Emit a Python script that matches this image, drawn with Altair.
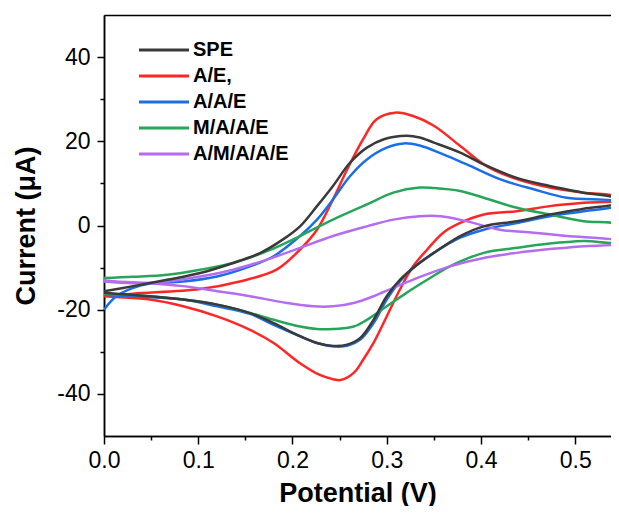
import altair as alt
import pandas as pd

# ---------------- data ----------------
SERIES = ["SPE", "A/E,", "A/A/E", "M/A/A/E", "A/M/A/A/E"]
COLORS = ["#3a3a3a", "#ff2626", "#1b6fe6", "#27a65a", "#b46cf0"]

SPE_V = [0.000, 0.031, 0.067, 0.102, 0.137, 0.166, 0.190, 0.208, 0.226, 0.243, 0.261, 0.279, 0.297, 0.321, 0.335, 0.350, 0.378, 0.403, 0.438, 0.473, 0.509, 0.546,
         0.546, 0.509, 0.473, 0.438, 0.403, 0.378, 0.350, 0.328, 0.314, 0.300, 0.286, 0.272, 0.258, 0.243, 0.226, 0.208, 0.180, 0.155, 0.120, 0.084, 0.049, 0.013, 0.000]
SPE_I = [-15.6, -14.4, -12.9, -11.3, -8.9, -6.5, -3.3, -0.2, 4.6, 9.4, 14.9, 18.5, 20.5, 21.3, 20.9, 19.7, 17.3, 14.5, 11.3, 9.4, 7.8, 6.3,
         5.4, 4.0, 2.6, 1.0, -0.2, -2.5, -6.5, -10.1, -12.9, -16.8, -22.4, -26.7, -28.3, -28.6, -27.9, -26.3, -23.2, -20.8, -18.8, -17.6, -16.8, -16.2, -16.0]

AE_V = [0.000, 0.031, 0.102, 0.144, 0.183, 0.208, 0.226, 0.243, 0.258, 0.275, 0.289, 0.309, 0.328, 0.350, 0.378, 0.406, 0.438, 0.473, 0.509, 0.546,
        0.546, 0.509, 0.473, 0.438, 0.403, 0.378, 0.360, 0.343, 0.328, 0.314, 0.300, 0.286, 0.275, 0.265, 0.251, 0.243, 0.229, 0.208, 0.180, 0.155, 0.120, 0.084, 0.049, 0.013, 0.000]
AE_I = [-16.8, -16.2, -15.1, -13.3, -10.5, -5.7, -1.0, 6.2, 13.3, 20.5, 25.2, 26.8, 26.0, 23.7, 18.9, 14.1, 11.0, 9.0, 7.8, 6.8,
        6.0, 5.4, 4.6, 3.4, 2.6, 0.6, -1.7, -5.7, -9.7, -15.2, -21.6, -27.9, -31.9, -35.0, -36.7, -36.5, -35.5, -32.7, -27.9, -24.8, -21.6, -19.2, -17.6, -17.0, -16.8]

AAE_V = [0.000, 0.013, 0.031, 0.049, 0.084, 0.120, 0.155, 0.180, 0.208, 0.226, 0.243, 0.261, 0.279, 0.300, 0.318, 0.335, 0.360, 0.385, 0.420, 0.456, 0.491, 0.546,
         0.546, 0.509, 0.473, 0.438, 0.403, 0.378, 0.350, 0.328, 0.314, 0.300, 0.286, 0.272, 0.258, 0.243, 0.226, 0.208, 0.180, 0.155, 0.120, 0.084, 0.049, 0.013, 0.000]
AAE_I = [-20.0, -16.8, -14.8, -13.8, -13.3, -12.1, -9.7, -7.3, -2.5, 1.4, 6.2, 11.7, 15.7, 18.5, 19.5, 19.0, 16.9, 14.5, 11.0, 8.6, 6.6, 5.6,
         4.8, 3.4, 2.2, 0.6, -1.0, -2.9, -6.5, -10.1, -13.3, -17.6, -23.2, -27.1, -28.6, -28.7, -27.9, -26.3, -23.6, -21.0, -19.2, -17.6, -17.0, -16.7, -16.4]

MAAE_V = [0.000, 0.031, 0.067, 0.102, 0.137, 0.173, 0.208, 0.243, 0.279, 0.307, 0.335, 0.350, 0.378, 0.403, 0.438, 0.473, 0.509, 0.546,
          0.546, 0.509, 0.473, 0.438, 0.403, 0.367, 0.343, 0.321, 0.300, 0.279, 0.265, 0.243, 0.226, 0.208, 0.180, 0.155, 0.120, 0.084, 0.049, 0.024, 0.000]
MAAE_I = [-12.5, -12.2, -11.7, -10.5, -8.9, -6.1, -2.5, 1.4, 5.0, 7.8, 9.0, 8.9, 8.2, 6.6, 4.2, 2.6, 1.0, 0.0,
          -3.7, -3.7, -4.3, -5.3, -6.5, -9.7, -12.9, -16.0, -19.2, -22.4, -24.0, -24.6, -24.6, -24.0, -22.4, -20.8, -18.8, -17.6, -16.8, -16.4, -16.2]

AMAAE_V = [0.000, 0.031, 0.067, 0.102, 0.137, 0.173, 0.208, 0.243, 0.279, 0.307, 0.335, 0.357, 0.385, 0.420, 0.456, 0.491, 0.546,
           0.546, 0.509, 0.473, 0.438, 0.403, 0.367, 0.332, 0.307, 0.286, 0.265, 0.243, 0.222, 0.194, 0.155, 0.120, 0.084, 0.049, 0.013, 0.000]
AMAAE_I = [-13.3, -13.7, -13.3, -12.1, -10.5, -8.1, -5.3, -2.5, -0.2, 1.4, 2.2, 2.2, 1.0, -1.0, -1.7, -2.5, -3.7,
           -4.3, -4.9, -5.6, -6.5, -7.7, -9.7, -12.5, -14.8, -16.8, -18.4, -19.2, -19.2, -18.4, -16.8, -15.6, -14.4, -13.7, -13.3, -13.0]

X_TICKS = [0.0, 0.1, 0.2, 0.3, 0.4, 0.5]
X_MINOR = [0.05, 0.15, 0.25, 0.35, 0.45]
Y_TICKS = [-40, -20, 0, 20, 40]
Y_MINOR = [-30, -10, 10, 30]

# ---------------- table ----------------
curves = {
    "A/E,": (AE_V, AE_I),
    "A/A/E": (AAE_V, AAE_I),
    "M/A/A/E": (MAAE_V, MAAE_I),
    "A/M/A/A/E": (AMAAE_V, AMAAE_I),
    "SPE": (SPE_V, SPE_I),
}
rows = []
for name, (vs, cs) in curves.items():
    for k, (v, c) in enumerate(zip(vs, cs)):
        rows.append({"series": name, "V": v, "I": c, "idx": k})
df = pd.DataFrame(rows)

FONT = "Liberation Sans"
xscale = alt.Scale(domain=[0, 0.538], nice=False, zero=False)
yscale = alt.Scale(domain=[-50, 50], nice=False, zero=False)

base = alt.Chart(df)

main = base.mark_line(strokeWidth=2.5, interpolate="catmull-rom", clip=True).encode(
    x=alt.X("V:Q", scale=xscale, axis=alt.Axis(
        values=X_TICKS, title="Potential (V)", tickSize=8, labelPadding=5, labelFlush=False,
        labelExpr="format(datum.value, '.1f')", titleY=65, titleBaseline="alphabetic")),
    y=alt.Y("I:Q", scale=yscale, axis=alt.Axis(
        values=Y_TICKS, title="Current (\u03bcA)", tickSize=7, labelPadding=7, labelFlush=False,
        labelExpr="'' + datum.value", titleX=-70, titleBaseline="alphabetic")),
    color=alt.Color("series:N", scale=alt.Scale(domain=SERIES, range=COLORS),
                    sort=SERIES, legend=alt.Legend(title=None)),
    detail="series:N",
    order=alt.Order("idx:Q"),
)

minor = base.mark_line(opacity=0).encode(
    x=alt.X("V:Q", scale=xscale, axis=alt.Axis(values=X_MINOR, labels=False, tickSize=4, title=None, orient="bottom")),
    y=alt.Y("I:Q", scale=yscale, axis=alt.Axis(values=Y_MINOR, labels=False, tickSize=4, title=None, orient="left")),
    detail="series:N",
    order=alt.Order("idx:Q"),
)

top = base.mark_line(opacity=0).encode(
    x=alt.X("V:Q", scale=xscale, axis=alt.Axis(orient="top", labels=False, ticks=False, title=None)),
    y=alt.Y("I:Q", scale=yscale, axis=None),
    detail="series:N",
    order=alt.Order("idx:Q"),
)

chart = alt.layer(main, minor, top).resolve_axis(x="independent", y="independent").properties(
    width=507, height=421,
    autosize=alt.AutoSizeParams(type="none"),
    padding={"left": 96, "top": 7, "right": 0, "bottom": 70},
).configure_view(stroke=None).configure_axis(
    grid=False, domainColor="#000", domainWidth=1.5, tickColor="#000", tickWidth=1.5,
    labelFont=FONT, labelFontSize=23, labelColor="#000",
    titleFont=FONT, titleFontSize=27, titleFontWeight="bold", titleColor="#000",
).configure_legend(
    orient="none", legendX=30, legendY=25,
    symbolType="M-1,0H9", symbolSize=100, symbolStrokeWidth=3,
    labelFont=FONT, labelFontSize=20, labelFontWeight="bold", labelColor="#000",
    labelOffset=39, rowPadding=6,
)

chart.save("out.html", embed_options={"renderer": "svg", "actions": False})
